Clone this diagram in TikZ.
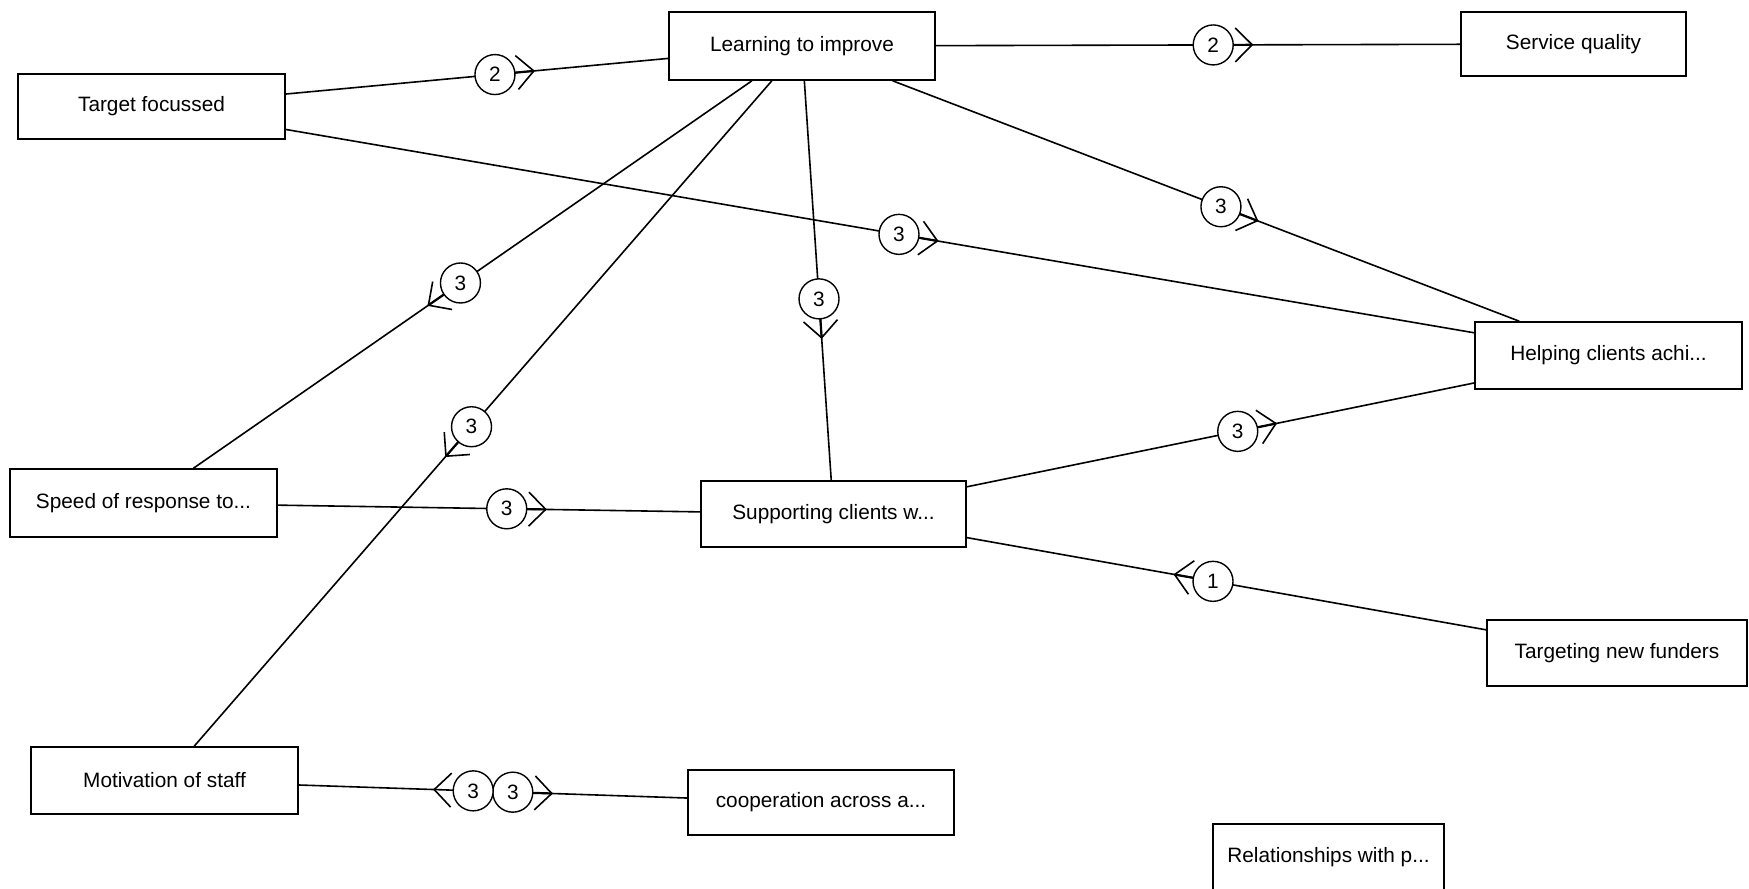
\documentclass[tikz,border=0pt]{standalone}
\usepackage{fontspec}
\setmainfont{Liberation Sans}
\usetikzlibrary{decorations.markings}
\tikzset{
  box/.style={draw, fill=white, line width=0.8pt, font=\fontsize{10.4}{12}\selectfont, inner sep=0pt, minimum height=33pt},
  circ/.style={draw, circle, fill=white, line width=0.7pt, minimum size=20pt, inner sep=0pt, font=\fontsize{10.4}{12}\selectfont},
  link/.style={line width=0.8pt},
  lab/.style 2 args={postaction={decorate, decoration={markings, mark=at position #1 with {
      \node[circ] {#2};
      \draw[line width=1.1pt] (10pt,0pt) -- (19.5pt,0pt);
      \draw[line width=0.8pt] (11pt,8.5pt) -- (19.5pt,0pt) -- (11pt,-8.5pt);
  }}}},
  labr/.style 2 args={postaction={decorate, decoration={markings, mark=at position #1 with {
      \node[circ] {#2};
      \draw[line width=0.8pt] (-11pt,8.5pt) -- (-19.5pt,0pt) -- (-11pt,-8.5pt);
  }}}},
}
\begin{document}
\begin{tikzpicture}[x=0.5pt, y=-0.5pt]
\path[use as bounding box, fill=white] (0,0) rectangle (1749,888);
\clip (0,0) rectangle (1749,888);
\node[box, minimum width=133pt, minimum height=34pt] (li) at (802,46) {Learning to improve};
\node[box, minimum width=112.5pt, minimum height=32pt] (sq) at (1573.5,44) {Service quality};
\node[box, minimum width=133.5pt, minimum height=32.5pt] (tf) at (151.5,106.5) {Target focussed};
\node[box, minimum width=133.5pt, minimum height=33.5pt] (hc) at (1608.5,355.5) {Helping clients achi...};
\node[box, minimum width=133.5pt, minimum height=34pt] (sp) at (143.5,503) {Speed of response to...};
\node[box, minimum width=132.5pt, minimum height=33pt] (su) at (833.5,514) {Supporting clients w...};
\node[box, minimum width=130pt, minimum height=33pt] (tn) at (1617,653) {Targeting new funders};
\node[box, minimum width=133.5pt, minimum height=33.5pt] (mo) at (164.5,780.5) {Motivation of staff};
\node[box, minimum width=133pt, minimum height=32.5pt] (co) at (821,802.5) {cooperation across a...};
\node[box, minimum width=115.5pt, minimum height=33pt] (re) at (1328.5,857) {Relationships with p...};
\draw[link, lab={0.547}{2}] (tf) -- (li);
\draw[link, lab={0.529}{2}] (li) -- (sq);
\draw[link, lab={0.516}{3}] (tf) -- (hc);
\draw[link, lab={0.524}{3}] (li) -- (hc);
\draw[link, lab={0.522}{3}] (li) -- (sp);
\draw[link, lab={0.52}{3}] (li) -- (mo);
\draw[link, lab={0.546}{3}] (li) -- (su);
\draw[link, lab={0.542}{3}] (sp) -- (su);
\draw[link, lab={0.534}{3}] (su) -- (hc);
\draw[link, lab={0.526}{1}] (tn) -- (su);
\draw[link, lab={0.551}{3}, labr={0.449}{3}] (mo) -- (co);
\end{tikzpicture}
\end{document}
